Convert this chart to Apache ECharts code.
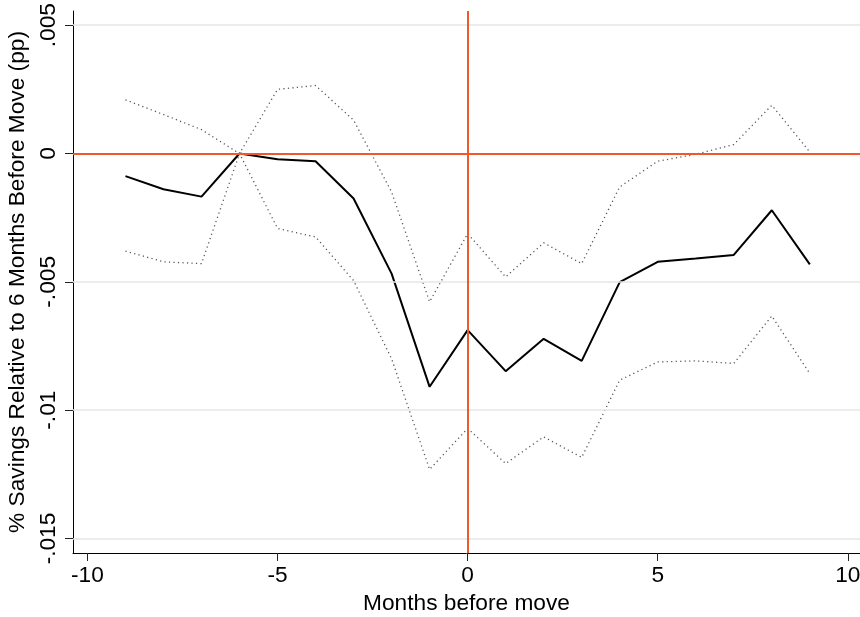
<!DOCTYPE html>
<html><head><meta charset="utf-8">
<script src="https://cdn.jsdelivr.net/npm/echarts@6/dist/echarts.min.js"></script>
<style>html,body{margin:0;padding:0;background:#fff}#c{width:860px;height:617px}</style>
</head><body><div id="c"></div>
<script>
const months = [-9,-8,-7,-6,-5,-4,-3,-2,-1,0,1,2,3,4,5,6,7,8,9];
const coef  = [-0.00088,-0.00139,-0.00168,0,-0.00022,-0.0003,-0.00175,-0.00468,-0.00909,-0.00688,-0.00848,-0.00722,-0.00808,-0.00501,-0.00422,-0.00409,-0.00395,-0.00221,-0.00432];
const upper = [0.00209,0.00152,0.00093,0,0.0025,0.00265,0.0013,-0.0015,-0.00578,-0.00312,-0.00481,-0.00348,-0.00429,-0.0013,-0.0003,-0.00003,0.00035,0.00188,0.00006];
const lower = [-0.0038,-0.00422,-0.00429,0,-0.00292,-0.00325,-0.00495,-0.0080,-0.01231,-0.01071,-0.01208,-0.01104,-0.01184,-0.00883,-0.00812,-0.00808,-0.00818,-0.00633,-0.00857];
const xTicks = [-10,-5,0,5,10];
const xTickLabels = ['-10','-5','0','5','10'];
const yTicks = [-0.015,-0.01,-0.005,0,0.005];
const yTickLabels = ['-.015','-.01','-.005','0','.005'];
const xTitle = 'Months before move';
const yTitle = '% Savings Relative to 6 Months Before Move (pp)';

const FONT = 'Liberation Sans, Arial, sans-serif';
const FS = 22.7;
const pairs = arr => months.map((m,i)=>[m,arr[i]]);
const labelFor = (ticks, labels) => v => {
  for (let i=0;i<ticks.length;i++) if (Math.abs(ticks[i]-v)<1e-9) return labels[i];
  return '';
};
const chart = echarts.init(document.getElementById('c'), null, {renderer:'canvas'});
chart.setOption({
  animation:false,
  backgroundColor:'#fff',
  grid:{left:73, right:0, top:11, bottom:64, containLabel:false, outerBoundsMode:'none'},
  xAxis:{
    type:'value', min:-10.38, max:10.32,
    axisLine:{show:true, onZero:false, lineStyle:{color:'#000', width:1}},
    axisTick:{show:true, length:8, customValues:xTicks, lineStyle:{color:'#222', width:1}},
    axisLabel:{customValues:xTicks, formatter:labelFor(xTicks,xTickLabels), fontSize:FS, color:'#000', margin:11, fontFamily:FONT, hideOverlap:false},
    splitLine:{show:false},
    name:xTitle, nameLocation:'middle', nameGap:37,
    nameTextStyle:{fontSize:FS, color:'#000', fontFamily:FONT}
  },
  yAxis:{
    type:'value', min:-0.015565, max:0.005553,
    axisLine:{show:true, onZero:false, lineStyle:{color:'#000', width:1}},
    axisTick:{show:true, length:8, customValues:yTicks, lineStyle:{color:'#222', width:1}},
    axisLabel:{customValues:yTicks, formatter:labelFor(yTicks,yTickLabels), fontSize:FS, color:'#000', margin:13, rotate:90, align:'center', verticalAlign:'bottom', fontFamily:FONT},
    splitLine:{show:false},
    name:yTitle, nameLocation:'middle', nameGap:28, nameRotate:90,
    nameTextStyle:{fontSize:FS, color:'#000', fontFamily:FONT}
  },
  series:[
    {type:'line', data:[], z:1, silent:true,
     markLine:{silent:true, symbol:'none', precision:6, label:{show:false}, animation:false,
       lineStyle:{color:'#e6e6e6', width:1.5, type:'solid'},
       data:yTicks.filter(v=>v!==0).map(v=>({yAxis:v}))}},
    {type:'line', data:pairs(upper), z:2, showSymbol:false, symbol:'none',
     lineStyle:{color:'#555', width:1.3, type:[1.2,3.3]}},
    {type:'line', data:pairs(lower), z:2, showSymbol:false, symbol:'none',
     lineStyle:{color:'#555', width:1.3, type:[1.2,3.3]}},
    {type:'line', data:pairs(coef), z:3, showSymbol:false, symbol:'none',
     lineStyle:{color:'#000', width:2}},
    {type:'line', data:[], z:4, silent:true,
     markLine:{silent:true, symbol:'none', precision:6, label:{show:false}, animation:false,
       lineStyle:{color:'#f05a28', width:2, type:'solid'},
       data:[{xAxis:0},{yAxis:0}]}}
  ]
});
</script></body></html>
